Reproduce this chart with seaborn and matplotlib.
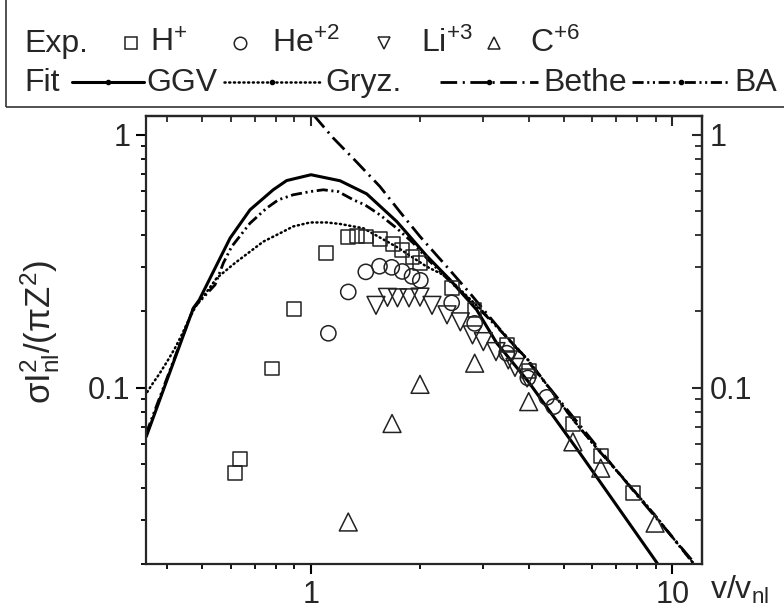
import matplotlib
matplotlib.use("Agg")
import matplotlib.pyplot as plt
import seaborn as sns
import pandas as pd
from matplotlib.lines import Line2D
from matplotlib.patches import Rectangle
from matplotlib.ticker import LogLocator, NullFormatter, FixedLocator, FixedFormatter

# ---------------- data ----------------
h_v = [0.617, 0.636, 0.778, 0.897, 1.100, 1.268, 1.341, 1.422, 1.552, 1.684, 1.786, 1.910, 2.007,
       2.451, 2.835, 3.481, 4.007, 5.301, 6.337, 7.80]
h_s = [0.0461, 0.0521, 0.119, 0.204, 0.342, 0.393, 0.398, 0.396, 0.387, 0.369, 0.349, 0.328, 0.311,
       0.247, 0.2025, 0.147, 0.1165, 0.0719, 0.0535, 0.0382]

he_v = [1.117, 1.268, 1.418, 1.547, 1.673, 1.789, 1.904, 2.007, 2.451, 2.838, 3.481, 3.982, 4.491, 4.696]
he_s = [0.164, 0.239, 0.287, 0.302, 0.299, 0.288, 0.2755, 0.2656, 0.2164, 0.1795, 0.1368, 0.1092, 0.0915, 0.0841]

li_v = [1.513, 1.628, 1.735, 1.867, 2.003, 2.162, 2.379, 2.590, 2.799, 2.999, 3.251, 3.516, 3.669, 3.962]
li_s = [0.2115, 0.2275, 0.2265, 0.2265, 0.228, 0.2115, 0.194, 0.182, 0.1616, 0.152, 0.1388, 0.1287, 0.1202, 0.1092]

c_v = [1.268, 1.676, 2.003, 2.838, 4.004, 5.307, 6.337, 8.96]
c_s = [0.0294, 0.0721, 0.103, 0.1249, 0.088, 0.061, 0.048, 0.0291]

ggv_v = [0.35, 0.4723, 0.4906, 0.531, 0.597, 0.678, 0.786, 0.856, 1.0, 1.203, 1.426, 1.727, 2.09,
         2.425, 2.875, 3.266, 3.995, 5.553, 9.15]
ggv_s = [0.064, 0.206, 0.2223, 0.279, 0.390, 0.505, 0.606, 0.659, 0.695, 0.658, 0.584, 0.454, 0.332,
         0.267, 0.203, 0.15, 0.1056, 0.055, 0.0199]

gryz_v = [0.352, 0.365, 0.38, 0.40, 0.42, 0.44, 0.46, 0.48, 0.5035, 0.548, 0.616, 0.678, 0.738, 0.821,
          0.893, 0.994, 1.105, 1.203, 1.396, 1.727, 2.09, 2.375, 2.969, 3.196, 4.0, 5.32, 6.177, 7.318,
          8.86, 11.43]
gryz_s = [0.096, 0.104, 0.113, 0.127, 0.143, 0.163, 0.187, 0.21, 0.229, 0.271, 0.311, 0.345, 0.378, 0.408,
          0.434, 0.450, 0.450, 0.444, 0.427, 0.36, 0.301, 0.275, 0.202, 0.181, 0.128, 0.0745, 0.0576, 0.0438,
          0.0318, 0.0202]

bethe_v = [1.015, 1.153, 1.338, 1.552, 1.764, 2.003, 2.375, 2.755, 3.266, 3.954, 4.587, 5.438, 6.866,
           8.494, 11.32]
bethe_s = [1.2, 0.97, 0.78, 0.624, 0.495, 0.396, 0.301, 0.236, 0.176, 0.1287, 0.099, 0.0735, 0.0487,
           0.0338, 0.0208]

ba_v = [0.35, 0.4723, 0.5425, 0.572, 0.603, 0.678, 0.754, 0.812, 0.893, 0.994, 1.081, 1.19, 1.31, 1.411,
        1.552, 1.727, 1.919, 2.112, 2.375, 2.969, 3.196, 4.0, 5.32, 6.177, 7.318, 8.86, 11.43]
ba_s = [0.066, 0.206, 0.255, 0.311, 0.361, 0.447, 0.513, 0.553, 0.579, 0.596, 0.606, 0.596, 0.553, 0.528,
        0.482, 0.427, 0.373, 0.32, 0.271, 0.2, 0.18, 0.128, 0.0745, 0.0576, 0.0438, 0.0318, 0.0202]

exp_labels = ["H$^{+}$", "He$^{+2}$", "Li$^{+3}$", "C$^{+6}$"]
fit_labels = ["GGV", "Gryz.", "Bethe", "BA"]
x_tick_labels = ["1", "10"]
y_tick_labels = ["0.1", "1"]
x_label = "v/v$_{nl}$"
y_label = r"$\sigma I_{nl}^{2}/(\pi Z^{2})$"

# ---------------- style ----------------
sns.set_style("ticks")
plt.rcParams["font.family"] = ["Liberation Sans", "DejaVu Sans"]
plt.rcParams["mathtext.fontset"] = "custom"
plt.rcParams["mathtext.rm"] = "Liberation Sans"
plt.rcParams["mathtext.it"] = "Liberation Sans"
plt.rcParams["mathtext.sf"] = "Liberation Sans"
plt.rcParams["mathtext.default"] = "regular"
plt.rcParams["lines.scale_dashes"] = False

W, H = 784, 615
fig = plt.figure(figsize=(W / 100, H / 100), dpi=100)
L, R, T, B = 146, 701.7, 115.7, 564.3
ax = fig.add_axes([L / W, 1 - B / H, (R - L) / W, (B - T) / H])
ax.set_xscale("log")
ax.set_yscale("log")

INK = "black"
styles = {
    "GGV": dict(lw=2.2, ls="-"),
    "Gryz.": dict(lw=1.8, ls=(0, (0.8, 2.6)), dash_capstyle="round"),
    "Bethe": dict(lw=2.0, ls=(0, (12, 4, 1.5, 4))),
    "BA": dict(lw=2.0, ls=(0, (8, 2.6, 1.5, 2.6, 1.5, 2.6))),
}
curves = {"GGV": (ggv_v, ggv_s), "Gryz.": (gryz_v, gryz_s), "Bethe": (bethe_v, bethe_s), "BA": (ba_v, ba_s)}
for name in ["Gryz.", "BA", "Bethe", "GGV"]:
    v, s = curves[name]
    df = pd.DataFrame({"v": v, "s": s})
    st = styles[name]
    sns.lineplot(data=df, x="v", y="s", ax=ax, color=INK, sort=False, estimator=None,
                 linewidth=st["lw"])
    ln = ax.lines[-1]
    ln.set_linestyle(st["ls"])
    if "dash_capstyle" in st:
        ln.set_dash_capstyle(st["dash_capstyle"])

MEC = "#222222"
exp_sets = [(h_v, h_s, "s", 100), (he_v, he_s, "o", 120), (li_v, li_s, "v", 165), (c_v, c_s, "^", 165)]
for v, s, m, sz in exp_sets:
    df = pd.DataFrame({"v": v, "s": s})
    sns.scatterplot(data=df, x="v", y="s", ax=ax, marker=m, s=sz, facecolor="none",
                    edgecolor=MEC, linewidth=1.1, zorder=5)

ax.set_xlim(0.3494, 12.06)
ax.set_ylim(0.02, 1.19)

for sp in ax.spines.values():
    sp.set_linewidth(1.6)
    sp.set_visible(True)
ax.xaxis.set_major_locator(FixedLocator([1, 10]))
ax.xaxis.set_major_formatter(FixedFormatter(x_tick_labels))
ax.xaxis.set_minor_locator(LogLocator(base=10, subs=range(2, 10)))
ax.xaxis.set_minor_formatter(NullFormatter())
ax.yaxis.set_major_locator(FixedLocator([0.1, 1]))
ax.yaxis.set_major_formatter(FixedFormatter(y_tick_labels))
ax.yaxis.set_minor_locator(LogLocator(base=10, subs=range(2, 10)))
ax.yaxis.set_minor_formatter(NullFormatter())
ax.tick_params(which="major", direction="out", length=7, width=1.5, labelsize=22, pad=4, color=INK)
ax.tick_params(which="minor", direction="out", length=3.5, width=1.3, color=INK)
ax.tick_params(top=False, right=False)

secy = ax.secondary_yaxis("right")
secy.set_yticks([0.1, 1], y_tick_labels)
secy.yaxis.set_minor_locator(LogLocator(base=10, subs=range(2, 10)))
secy.yaxis.set_minor_formatter(NullFormatter())
secy.tick_params(which="major", direction="in", length=7, width=1.5, labelsize=22, pad=6)
secy.tick_params(which="minor", direction="in", length=5, width=1.3)
secy.spines["right"].set_linewidth(1.6)

secx = ax.secondary_xaxis("top")
secx.set_xticks([1, 10], ["", ""])
secx.xaxis.set_minor_locator(LogLocator(base=10, subs=range(2, 10)))
secx.xaxis.set_minor_formatter(NullFormatter())
secx.tick_params(which="major", direction="in", length=7, width=1.5, labeltop=False)
secx.tick_params(which="minor", direction="in", length=4, width=1.3)
secx.spines["top"].set_linewidth(1.6)

ax.set_ylabel(y_label, fontsize=25)
ax.yaxis.set_label_coords(-(L - 62) / (R - L), (B - 332) / (B - T))
ax.set_xlabel(x_label, fontsize=23, ha="left", va="center")
ax.xaxis.set_label_coords((710 - L) / (R - L), -(590 - B) / (B - T))

# ---------------- legend (drawn manually) ----------------
def fx(x):
    return x / W

def fy(y):
    return 1 - y / H

renderer = fig.canvas.get_renderer()

def put_text(x, y, s, fs):
    t = fig.text(fx(x), fy(y), s, fontsize=fs, va="baseline")
    return t.get_window_extent(renderer).x1

fig.add_artist(Rectangle((fx(6), fy(107)), 2, 2, transform=fig.transFigure, fill=False,
                         lw=1.2, ec="#333333"))
FS = 23
r1, r2, r2l = 52, 91, 82

# row 1: experimental symbols
put_text(24, r1, "Exp.", FS)
marks = ["s", "o", "v", "^"]
marker_x = [131, 240, 384, 494]
label_x = [150, 272, 421, 530]
for mx, lx, m, lab in zip(marker_x, label_x, marks, exp_labels):
    fig.add_artist(Line2D([fx(mx)], [fy(r1 - 9)], marker=m, ms=9, mfc="none", mec=MEC, mew=1.1,
                          transform=fig.transFigure))
    put_text(lx, r1, lab, FS)

# row 2: fit curves (flowing)
seg_len = [72, 96, 98, 98]
gap_in = [12, 6, 38, 5]
gap_out = [3, 6, 5, 5]
x = put_text(24, r2, "Fit", FS)
for lab, ln_len, gi, go in zip(fit_labels, seg_len, gap_in, gap_out):
    x0 = x + gi
    x1 = x0 + ln_len
    st = styles[lab]
    ln = Line2D([fx(x0), fx(x1)], [fy(r2l), fy(r2l)], color=INK, lw=st["lw"], ls=st["ls"],
                transform=fig.transFigure)
    if "dash_capstyle" in st:
        ln.set_dash_capstyle(st["dash_capstyle"])
    fig.add_artist(ln)
    fig.add_artist(Line2D([fx((x0 + x1) / 2)], [fy(r2l)], marker="o", ms=3, color=INK, lw=0,
                          transform=fig.transFigure))
    x = put_text(x1 + go, r2, lab, FS)

fig.savefig("out.png", dpi=100)
